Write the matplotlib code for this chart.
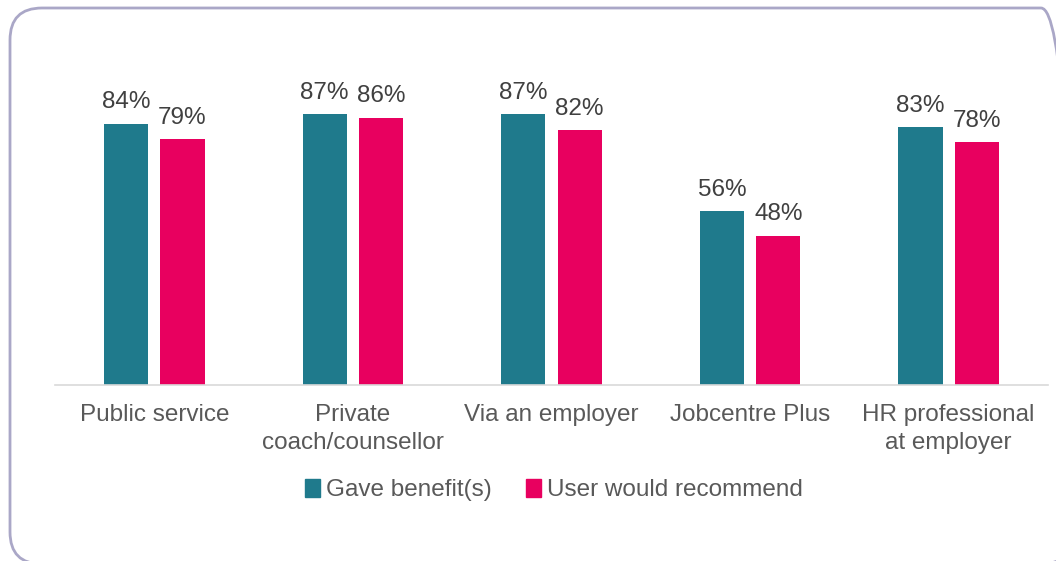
import numpy as np
import matplotlib.pyplot as plt
from matplotlib.patches import FancyBboxPatch, Patch

plt.rcParams['font.family'] = ['Liberation Sans', 'DejaVu Sans']

categories = ['Public service', 'Private\ncoach/counsellor', 'Via an employer',
              'Jobcentre Plus', 'HR professional\nat employer']
gave_benefit = [84, 87, 87, 56, 83]
would_recommend = [79, 86, 82, 48, 78]

teal = '#1f7a8c'
pink = '#e8005f'

fig = plt.figure(figsize=(10.56, 5.61), dpi=100)

# rounded frame around the whole chart
frame = FancyBboxPatch((0.10, -0.03), 10.63, 5.56,
                       boxstyle='round,pad=0,rounding_size=0.32',
                       transform=fig.dpi_scale_trans, facecolor='none',
                       edgecolor='#aaa7c7', linewidth=2.0, zorder=-1)
fig.patches.append(frame)

ax = fig.add_axes([0.0521, 0.3137, 0.9403, 0.5544])
ax.patch.set_alpha(0)

x = np.arange(len(categories))
w = 0.222
off = 0.142
b1 = ax.bar(x - off, gave_benefit, w, color=teal, label='Gave benefit(s)')
b2 = ax.bar(x + off, would_recommend, w, color=pink, label='User would recommend')

for bars, vals in ((b1, gave_benefit), (b2, would_recommend)):
    for r, v in zip(bars, vals):
        ax.annotate(f'{v}%', (r.get_x() + r.get_width() / 2, v),
                    xytext=(0, 11), textcoords='offset points',
                    ha='center', va='baseline', fontsize=17.5, color='#404040')

ax.set_xlim(-0.5, len(categories) - 0.5)
ax.set_ylim(0, 100)
ax.set_xticks(x)
ax.set_xticklabels(categories, fontsize=17.5, color='#595959', linespacing=1.32)
ax.tick_params(axis='x', length=0, pad=14)
ax.set_yticks([])
for s in ('top', 'right', 'left'):
    ax.spines[s].set_visible(False)
ax.spines['bottom'].set_color('#d9d9d9')
ax.spines['bottom'].set_linewidth(1.2)

handles = [Patch(color=teal), Patch(color=pink)]
fig.legend(handles, ['Gave benefit(s)', 'User would recommend'],
           loc='center', bbox_to_anchor=(0.5246, 0.1266), ncol=2, frameon=False,
           fontsize=17.5, labelcolor='#595959', handlelength=0.6,
           handleheight=0.75, handletextpad=0.25, columnspacing=1.4)

fig.savefig('out.png', dpi=100)
